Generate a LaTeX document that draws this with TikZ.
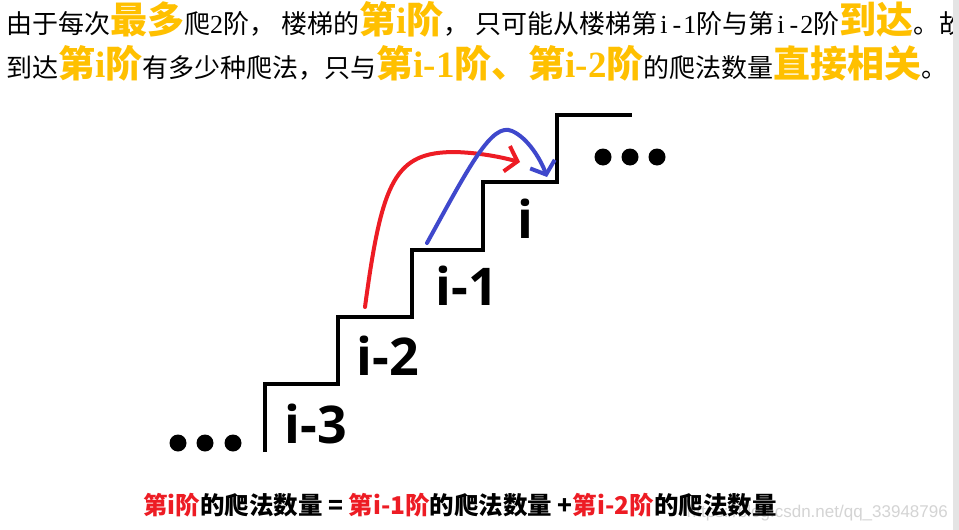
\documentclass[tikz,border=0pt]{standalone}
\usepackage{fontspec}
\usetikzlibrary{arrows.meta}
\newfontfamily\cjk{Noto Sans CJK SC}
\newfontfamily\latinserif{Liberation Serif}
\newfontfamily\stepfont{Open Sans}
\newfontfamily\markfont{Liberation Sans}
\definecolor{gold}{HTML}{FFC000}
\definecolor{paintred}{HTML}{ED1C24}
\definecolor{paintblue}{HTML}{3F48CC}
\definecolor{markgray}{HTML}{D4D4D4}
\definecolor{edgegray}{HTML}{E4E4E4}
\newcommand\hl[1]{{\color{gold}\fontsize{37}{37}\selectfont\bfseries #1}}
\newcommand\hli[1]{{\latinserif\bfseries #1}}
\newcommand\hw[1]{\makebox[0.5em]{\latinserif #1}}
\newcommand\rd[1]{{\color{paintred}#1}}
\newcommand\cm{，\hspace{6pt}}
\tikzset{
  txt/.style={anchor=base west, inner sep=0pt},
  steplabel/.style={anchor=base, inner sep=0pt, font=\stepfont\bfseries\fontsize{52}{52}\selectfont},
  stair/.style={line width=4.5pt, line join=miter},
  jump/.style={line width=4pt, line cap=round, -{Straight Barb[length=11pt,width=26pt]}},
}
\begin{document}
\begin{tikzpicture}[x=1pt,y=-1pt]
        \fill[white] (0,0) rectangle (959,530);
        \useasboundingbox (0,0) rectangle (959,530);

        %%%%%%%% Top text %%%%%%%%
        \node[txt] (line1) at (6,33) {\cjk\fontsize{26}{26}\selectfont 由于每次\hl{最多}爬\hw{2}阶\cm 楼梯的\hl{第\hli{i}阶}\cm 只可能从楼梯第\hw{i}\hw{-}\hw{1}阶与第\hw{i}\hw{-}\hw{2}阶\hl{到达}。故};
        \node[txt] (line2) at (6,77) {\cjk\fontsize{26}{26}\selectfont 到达\hl{第\hli{i}阶}有多少种爬法，只与\hl{第\hli{i-1}阶、第\hli{i-2}阶}的爬法数量\hl{直接相关}。};

        %%%%%%%% Stairs %%%%%%%%
        \draw[stair] (265,452) -- (265,384) -- (338,384) -- (338,317) -- (412,317)
            -- (412,250) -- (483,250) -- (483,182) -- (557,182) -- (557,115) -- (632,115);

        %%%%%%%% Step labels %%%%%%%%
        \node[steplabel] (step3) at (316,443) {i-3};
        \node[steplabel] (step2) at (388,375) {i-2};
        \node[steplabel] (step1) at (467,305) {i-1};
        \node[steplabel] (step0) at (525,238) {i};

        %%%%%%%% Dots %%%%%%%%
        \foreach \x in {178,205,233} \fill (\x,443) circle (8.5);
        \foreach \x in {603,630,657} \fill (\x,157) circle (8.5);

        %%%%%%%% Jumps %%%%%%%%
        \coordinate (redfrom) at (365,307);
        \coordinate (redto) at (520,162);
        \draw[jump,paintred] (redfrom) .. controls (382,180) and (395,152) .. (455,152)
            .. controls (484,153) and (504,158) .. (redto);
        \coordinate (bluefrom) at (427,243);
        \coordinate (blueto) at (547,177);
        \draw[jump,paintblue] (bluefrom) .. controls (470,165) and (492,122) .. (512,131)
            .. controls (528,138) and (541,160) .. (blueto);

        %%%%%%%% Formula %%%%%%%%
        \node[anchor=base east, inner sep=0pt, text=markgray, font=\markfont\fontsize{17}{17}\selectfont] (mark) at (948,517) {https://blog.csdn.net/qq\_33948796};
        \node[txt] (formula) at (143,514) {\cjk\bfseries\fontsize{24.5}{24.5}\selectfont\rd{第i阶}的爬法数量 = \rd{第i-1阶}的爬法数量 +\rd{第i-2阶}的爬法数量};

        \fill[edgegray] (953,0) rectangle (959,530);
\end{tikzpicture}
\end{document}
